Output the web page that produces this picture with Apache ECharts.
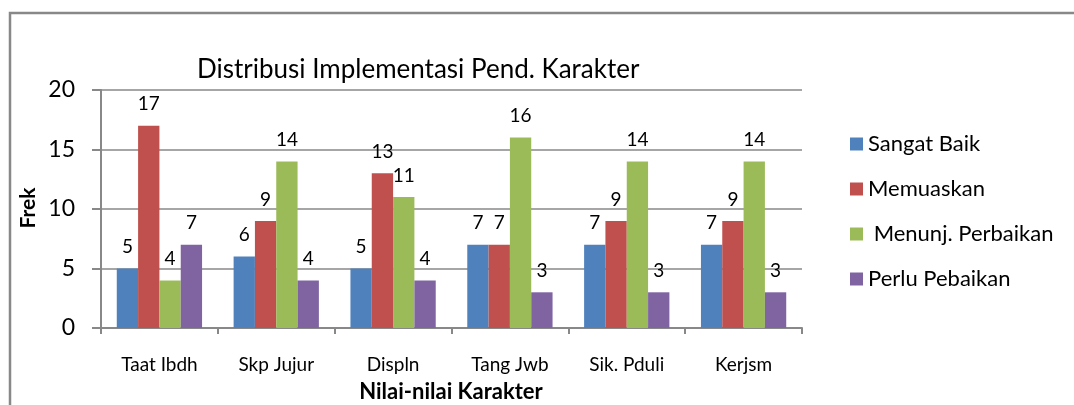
<!DOCTYPE html>
<html>
<head>
<meta charset="utf-8">
<script src="https://cdn.jsdelivr.net/npm/echarts@6/dist/echarts.min.js"></script>
<style>
html,body{margin:0;padding:0;background:#fff;}
#main{width:1074px;height:405px;}
</style>
</head>
<body>
<div id="main"></div>
<script>
const categories = ['Taat Ibdh', 'Skp Jujur', 'Displn', 'Tang Jwb', 'Sik. Pduli', 'Kerjsm'];
const sangatBaik = [5, 6, 5, 7, 7, 7];
const memuaskan = [17, 9, 13, 7, 9, 9];
const menunjPerbaikan = [4, 14, 11, 16, 14, 14];
const perluPebaikan = [7, 4, 4, 3, 3, 3];
const seriesNames = ['Sangat Baik', 'Memuaskan', ' Menunj. Perbaikan', 'Perlu Pebaikan'];
const yTicks = [0, 5, 10, 15, 20];

const FONT = 'Lato, "Open Sans", sans-serif';
const colors = ['#4F81BD', '#C0504D', '#9BBB59', '#8064A2'];
const seriesData = [sangatBaik, memuaskan, menunjPerbaikan, perluPebaikan];

const chart = echarts.init(document.getElementById('main'));
chart.setOption({
  animation: false,
  color: colors,
  textStyle: { fontFamily: FONT, color: '#000' },
  title: {
    text: 'Distribusi Implementasi Pend. Karakter',
    left: 192, top: 52,
    textStyle: { fontFamily: FONT, fontSize: 26, fontWeight: 'normal', color: '#000' }
  },
  legend: {
    orient: 'vertical',
    left: 845, top: 126,
    itemWidth: 13, itemHeight: 13, itemGap: 19,
    icon: 'rect',
    textStyle: { fontFamily: FONT, fontSize: 22, color: '#000', lineHeight: 26 },
    data: seriesNames
  },
  grid: { left: 101, right: 272, top: 90, bottom: 77, containLabel: false },
  xAxis: {
    type: 'category',
    data: categories,
    axisLine: { lineStyle: { color: '#888', width: 2 } },
    axisTick: { show: true, alignWithLabel: false, length: 6, lineStyle: { color: '#888', width: 2 } },
    axisLabel: { fontFamily: FONT, fontSize: 19, color: '#000', margin: 27 }
  },
  yAxis: {
    type: 'value',
    min: yTicks[0], max: yTicks[yTicks.length - 1], interval: 5,
    axisLine: { show: true, lineStyle: { color: '#888', width: 2 } },
    axisTick: { show: true, length: 9, lineStyle: { color: '#888', width: 2 } },
    splitLine: { lineStyle: { color: '#888', width: 1.5 } },
    axisLabel: { fontFamily: FONT, fontSize: 23, color: '#000', margin: 26 }
  },
  graphic: [
    { type: 'rect', shape: { x: 10, y: 13, width: 1100, height: 500 }, style: { fill: 'none', stroke: '#888', lineWidth: 2.5 }, silent: true },
    { type: 'text', x: 28, y: 208, rotation: Math.PI / 2, style: { text: 'Frek', fontFamily: FONT, fontSize: 21, fontWeight: 'bold', fill: '#000', align: 'center', verticalAlign: 'middle' } },
    { type: 'text', x: 451, y: 392, style: { text: 'Nilai-nilai Karakter', fontFamily: FONT, fontSize: 22, fontWeight: 'bold', fill: '#000', align: 'center', verticalAlign: 'middle' } }
  ],
  series: seriesData.map((d, i) => ({
    name: seriesNames[i],
    type: 'bar',
    data: d,
    barGap: '0%',
    barCategoryGap: '27%',
    itemStyle: { color: colors[i] },
    label: { show: true, position: 'top', distance: 12, fontFamily: FONT, fontSize: 19, color: '#000' }
  }))
});
</script>
</body>
</html>
